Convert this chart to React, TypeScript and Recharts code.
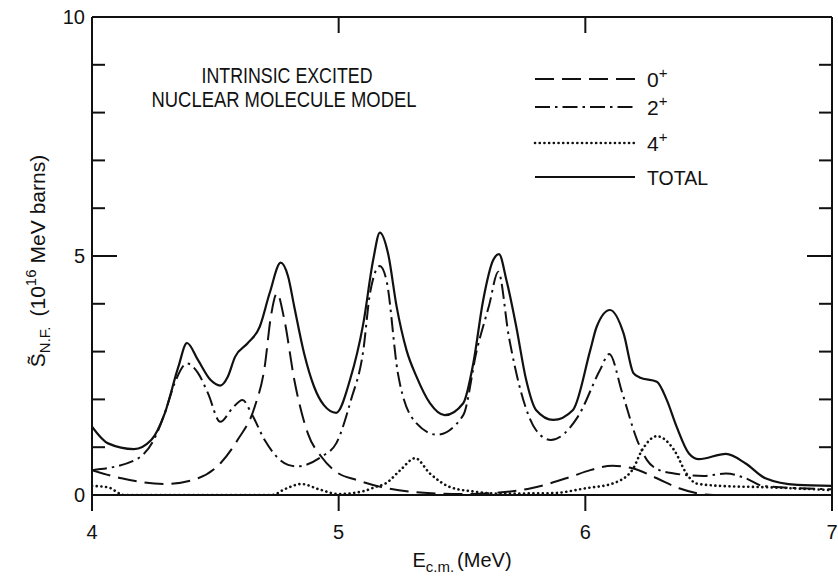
import React from 'react';
import { ComposedChart, Line, XAxis, YAxis, Customized } from 'recharts';

// ---- data ----
const xTicks = [4, 5, 6, 7];
const yTicks = [0, 1, 2, 3, 4, 5, 6, 7, 8, 9, 10];
const yLabelled = [0, 5, 10];
const topTicks = [5, 6];

const eTotal = [4.0, 4.065, 4.17, 4.24, 4.295, 4.35, 4.385, 4.43, 4.48, 4.52, 4.55, 4.58, 4.63, 4.68, 4.72, 4.765, 4.795, 4.82, 4.86, 4.9, 4.94, 4.99, 5.046, 5.1, 5.14, 5.167, 5.2, 5.235, 5.275, 5.316, 5.37, 5.43, 5.505, 5.546, 5.586, 5.627, 5.65, 5.68, 5.72, 5.76, 5.8, 5.87, 5.95, 6.02, 6.046, 6.1, 6.155, 6.195, 6.22, 6.29, 6.33, 6.37, 6.42, 6.46, 6.57, 6.65, 6.73, 6.86, 7.0];
const sTotal = [1.43, 1.08, 0.96, 1.15, 1.71, 2.68, 3.18, 2.82, 2.41, 2.29, 2.47, 2.89, 3.17, 3.52, 4.22, 4.86, 4.57, 3.94, 2.96, 2.27, 1.88, 1.72, 2.41, 3.59, 4.92, 5.49, 5.06, 3.94, 3.03, 2.47, 1.92, 1.67, 1.92, 2.76, 4.08, 4.92, 5.04, 4.5, 3.52, 2.41, 1.78, 1.57, 1.78, 3.03, 3.52, 3.87, 3.38, 2.55, 2.46, 2.37, 1.99, 1.43, 0.87, 0.75, 0.86, 0.66, 0.35, 0.21, 0.19];

const e0 = [4.0, 4.12, 4.295, 4.43, 4.52, 4.59, 4.66, 4.7, 4.725, 4.75, 4.78, 4.82, 4.875, 4.93, 5.0, 5.07, 5.17, 5.33, 5.5, 5.65, 5.78, 5.94, 6.02, 6.11, 6.19, 6.29, 6.38, 6.52, 7.0];
const s0 = [0.52, 0.35, 0.23, 0.35, 0.66, 1.15, 1.85, 2.68, 3.73, 4.22, 3.66, 2.41, 1.29, 0.8, 0.45, 0.32, 0.17, 0.05, 0.02, 0.05, 0.14, 0.38, 0.52, 0.61, 0.56, 0.35, 0.14, 0.0, 0.0];

const e2 = [4.0, 4.17, 4.25, 4.295, 4.335, 4.385, 4.43, 4.47, 4.52, 4.57, 4.61, 4.646, 4.7, 4.795, 4.83, 4.93, 4.99, 5.05, 5.1, 5.127, 5.167, 5.195, 5.24, 5.31, 5.4, 5.505, 5.56, 5.61, 5.647, 5.69, 5.8, 5.86, 5.97, 6.06, 6.097, 6.15, 6.21, 6.25, 6.3, 6.36, 6.48, 6.57, 6.65, 6.72, 7.0];
const s2 = [0.52, 0.72, 1.15, 1.71, 2.34, 2.75, 2.55, 2.13, 1.53, 1.82, 1.99, 1.71, 1.15, 0.63, 0.6, 0.8, 1.08, 1.99, 3.03, 4.22, 4.79, 4.46, 2.55, 1.53, 1.26, 1.67, 3.03, 3.97, 4.67, 3.31, 1.36, 1.15, 1.64, 2.62, 2.95, 2.13, 1.15, 0.73, 0.52, 0.45, 0.4, 0.45, 0.35, 0.19, 0.12];

const e4 = [4.0, 4.065, 4.13, 4.73, 4.78, 4.85, 4.92, 5.0, 5.1, 5.15, 5.19, 5.25, 5.31, 5.37, 5.45, 5.55, 5.65, 5.87, 6.0, 6.11, 6.19, 6.23, 6.29, 6.36, 6.41, 6.45, 6.55, 6.75, 7.0];
const s4 = [0.19, 0.16, 0.0, 0.0, 0.12, 0.23, 0.12, 0.02, 0.08, 0.17, 0.24, 0.52, 0.77, 0.45, 0.17, 0.07, 0.03, 0.04, 0.14, 0.24, 0.52, 0.94, 1.23, 0.94, 0.45, 0.24, 0.19, 0.16, 0.1];

const seriesNames = ['0+', '2+', '4+', 'TOTAL'];
const annotation = ['INTRINSIC EXCITED', 'NUCLEAR MOLECULE MODEL'];

const toData = (xs: number[], ys: number[]) => xs.map((x, i) => ({ x, y: ys[i] }));
const dTotal = toData(eTotal, sTotal);
const d0 = toData(e0, s0);
const d2 = toData(e2, s2);
const d4 = toData(e4, s4);

// ---- styles ----
const FONT = "'Liberation Sans', Arial, sans-serif";
const INK = '#111';
const DASH0 = '19 8';
const DASH2 = '15 5 2.5 5';
const DOT4 = '0.1 4.6';

const LeftTick = (props: any) => {
  const { x, y, payload } = props;
  const v = payload.value;
  const len = v === 5 ? 25 : 13;
  return (
    <g>
      {v > 0 && v < 10 && <line x1={x} x2={x + len} y1={y} y2={y} stroke={INK} strokeWidth={2} />}
      {yLabelled.includes(v) && (
        <text x={x - 7} y={y} dy="0.36em" textAnchor="end" fontSize={20} fontFamily={FONT} fill={INK}>
          {v}
        </text>
      )}
    </g>
  );
};

const RightTick = (props: any) => {
  const { x, y, payload } = props;
  const v = payload.value;
  const len = v === 5 ? 25 : 13;
  if (v <= 0 || v >= 10) return <g />;
  return <line x1={x} x2={x - len} y1={y} y2={y} stroke={INK} strokeWidth={2} />;
};

const TopTick = (props: any) => {
  const { x, y } = props;
  return <line x1={x} x2={x} y1={y} y2={y + 16} stroke={INK} strokeWidth={2} />;
};

const BottomTick = (props: any) => {
  const { x, y, payload } = props;
  return (
    <text x={x} y={y} dy="0.71em" textAnchor="middle" fontSize={20} fontFamily={FONT} fill={INK}>
      {payload.value}
    </text>
  );
};

const legendRows = [
  { name: seriesNames[0], dash: DASH0, cap: 'butt', y: 71 },
  { name: seriesNames[1], dash: DASH2, cap: 'butt', y: 99 },
  { name: seriesNames[2], dash: DOT4, cap: 'round', y: 135 },
  { name: seriesNames[3], dash: undefined, cap: 'butt', y: 169 },
];

const Annotations = () => (
  <g fontFamily={FONT} fill={INK}>
    <text x={279} y={75} textAnchor="middle" fontSize={22} textLength={171} lengthAdjust="spacingAndGlyphs">
      {annotation[0]}
    </text>
    <text x={276} y={99} textAnchor="middle" fontSize={22} textLength={265} lengthAdjust="spacingAndGlyphs">
      {annotation[1]}
    </text>
    {legendRows.map((r) => {
      const sup = r.name.endsWith('+');
      return (
        <g key={r.name}>
          <line
            x1={527}
            x2={627}
            y1={r.y}
            y2={r.y}
            stroke={INK}
            strokeWidth={r.cap === 'round' ? 2.6 : 2}
            strokeDasharray={r.dash}
            strokeLinecap={r.cap as any}
          />
          {sup ? (
            <text x={639} y={r.y + 8} fontSize={21}>
              {r.name.slice(0, -1)}
              <tspan dy={-9} fontSize={15}>+</tspan>
            </text>
          ) : (
            <text x={639} y={r.y + 8} fontSize={21} textLength={61} lengthAdjust="spacingAndGlyphs">
              {r.name}
            </text>
          )}
        </g>
      );
    })}
    {/* x-axis title */}
    <text x={454} y={559} textAnchor="middle" fontSize={20}>
      E<tspan dy={5} fontSize={15}>c.m.</tspan>
      <tspan dy={-5} dx={3}>(MeV)</tspan>
    </text>
    {/* y-axis title */}
    <text transform="translate(37,253) rotate(-90)" textAnchor="middle" fontSize={21}>
      {'S\u0303'}
      <tspan dy={5} fontSize={15}>N.F.</tspan>
      <tspan dy={-5} dx={10}>(10</tspan>
      <tspan dy={-9} fontSize={15}>16</tspan>
      <tspan dy={9} dx={6}>MeV</tspan>
      <tspan dx={6}>barns)</tspan>
    </text>
  </g>
);

export default function App() {
  return (
    <div
      style={{
        width: 838,
        height: 579,
        paddingLeft: 8,
        paddingTop: 8,
        boxSizing: 'border-box',
        background: '#fff',
        overflow: 'hidden',
      }}
    >
      <style>{'body{margin:0}'}</style>
      <ComposedChart width={830} height={571} margin={{ top: 8, right: 5, left: 0, bottom: 0 }}>
        <XAxis
          xAxisId={0}
          type="number"
          dataKey="x"
          domain={[4, 7]}
          ticks={xTicks}
          interval={0}
          allowDataOverflow
          height={84}
          tickSize={16}
          tickMargin={14}
          tickLine={{ stroke: INK, strokeWidth: 2 }}
          axisLine={{ stroke: INK, strokeWidth: 2 }}
          tick={<BottomTick />}
        />
        <XAxis
          xAxisId="top"
          orientation="top"
          type="number"
          dataKey="x"
          domain={[4, 7]}
          ticks={topTicks}
          interval={0}
          allowDataOverflow
          height={1}
          tickSize={0}
          tickMargin={0}
          tickLine={false}
          axisLine={{ stroke: INK, strokeWidth: 2 }}
          tick={<TopTick />}
        />
        <YAxis
          yAxisId={0}
          type="number"
          domain={[0, 10]}
          ticks={yTicks}
          allowDataOverflow
          width={84}
          tickSize={0}
          tickMargin={0}
          tickLine={false}
          axisLine={{ stroke: INK, strokeWidth: 2 }}
          tick={<LeftTick />}
          interval={0}
        />
        <YAxis
          yAxisId="right"
          orientation="right"
          type="number"
          domain={[0, 10]}
          ticks={yTicks}
          allowDataOverflow
          width={1}
          tickSize={0}
          tickMargin={0}
          tickLine={false}
          axisLine={{ stroke: INK, strokeWidth: 2 }}
          tick={<RightTick />}
          interval={0}
        />
        <Line data={d0} dataKey="y" type="monotone" stroke={INK} strokeWidth={2} strokeDasharray={DASH0} dot={false} isAnimationActive={false} />
        <Line data={d2} dataKey="y" type="monotone" stroke={INK} strokeWidth={2} strokeDasharray={DASH2} dot={false} isAnimationActive={false} />
        <Line data={d4} dataKey="y" type="monotone" stroke={INK} strokeWidth={2.6} strokeDasharray={DOT4} strokeLinecap="round" dot={false} isAnimationActive={false} />
        <Line data={dTotal} dataKey="y" type="monotone" stroke={INK} strokeWidth={2.2} dot={false} isAnimationActive={false} />
        <Customized component={Annotations} />
      </ComposedChart>
    </div>
  );
}
